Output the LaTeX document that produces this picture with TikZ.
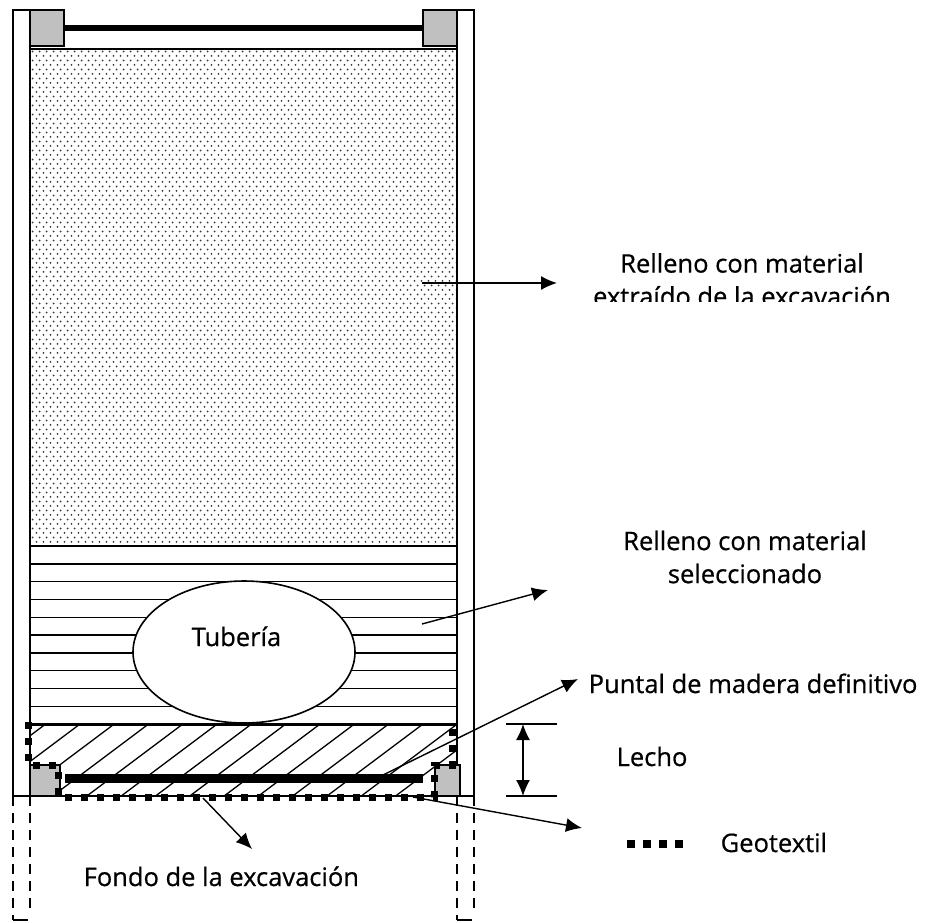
\documentclass[tikz,border=0pt]{standalone}
\usepackage{fontspec}
\setmainfont{Open Sans}
\newfontfamily\lblfam{Open Sans}[FakeBold=0.6]
\usepackage{tikz}
\usetikzlibrary{arrows.meta, patterns, shapes.geometric, positioning, calc}

\definecolor{blockgray}{RGB}{192,192,192}
\pgfdeclarepatternformonly{sanddots}{\pgfpointorigin}{\pgfqpoint{7pt}{8.8pt}}{\pgfqpoint{7pt}{8.8pt}}{%
  \pgfpathcircle{\pgfqpoint{1.75pt}{2.2pt}}{1.1pt}%
  \pgfpathcircle{\pgfqpoint{5.25pt}{6.6pt}}{1.1pt}%
  \pgfusepath{fill}}
\newcommand{\lblfont}{\lblfam\fontsize{25.5}{33}\selectfont}

\tikzset{
  block/.style={draw, fill=blockgray, line width=1.4pt},
  pile/.style={line width=1.4pt, dash pattern=on 10pt off 7pt},
  hatch/.style={line width=1.3pt},
  geotex/.style={line width=7pt, dash pattern=on 7pt off 9pt},
  geokey/.style={line width=8pt, dash pattern=on 8pt off 8pt},
  lbl/.style={font=\lblfont, inner sep=0pt},
  lbltwo/.style={font=\lblfont, inner sep=0pt, align=center, anchor=north},
}

\begin{document}
\begin{tikzpicture}[x=1pt,y=-1pt,line width=1.4pt,>={Latex[length=16pt,width=14pt]}]
\useasboundingbox (0,0) rectangle (930,922);
% fills of the trench
\draw[pattern=sanddots, pattern color=black!78] (30,49) rectangle (457,546);
\foreach \k in {1,...,9}
  \draw (30,546+17.8*\k) -- (457,546+17.8*\k);
\draw[line width=3pt] (30,724) -- (457,724);
\begin{scope}
  \clip (30,724) rectangle (457,796);
  \foreach \x in {11.4,45.7,...,560}
    \draw[hatch] (\x,724) -- ++(-96,72);
\end{scope}
\node[draw, fill=white, ellipse, line width=1.6pt, minimum width=222pt, minimum height=142pt, inner sep=0pt] (pipe) at (244,652) {};
\node[lbl, anchor=base west] (tuberia) at (191,646) {Tubería};
% walls and struts
\draw (13,796) -- (13,10) -- (30,10) -- (30,796);
\draw (457,796) -- (457,10) -- (474,10) -- (474,796);
\draw (13,796) -- (474,796);
\draw[pile] (13,796) -- (13,920);
\draw[pile] (30,796) -- (30,912);
\draw[pile] (457,796) -- (457,920);
\draw[pile] (474,796) -- (474,912);
\draw (13,920) -- (28,920);
\draw (457,920) -- (472,920);
\draw[block] (30,10) rectangle (64,46);
\draw[block] (423,10) rectangle (457,46);
\fill (64,25) rectangle (423,31);
\draw[block] (30,765) rectangle (60,796);
\draw[block] (435,765) rectangle (460,796);
\fill (65,774) rectangle (423,783);
% geotextil
\draw[geotex] (28,722) -- (28,765) -- (58,765) -- (58,797) -- (434,797) -- (434,765) -- (452,765) -- (452,722);
% labels
\begin{scope}
  \clip (560,230) rectangle (930,301);
  \node[lbltwo] (extraido) at (742,252.5) {Relleno con material\\extraído de la excavación};
\end{scope}
\node[lbltwo] (selec) at (745,530) {Relleno con material\\seleccionado};
\node[lbl, anchor=base west] (puntal) at (588,693) {Puntal de madera definitivo};
\node[lbl, anchor=base west] (lecho) at (616,766) {Lecho};
\node[lbl, anchor=base west] (geo) at (720,852) {Geotextil};
\node[lbl, anchor=base west] (fondo) at (83,886) {Fondo de la excavación};
% leaders
\coordinate (extA) at (422,283);
\coordinate (extB) at (557,283);
\coordinate (selA) at (422,624);
\coordinate (selB) at (548,590);
\coordinate (punA) at (383,775);
\coordinate (punB) at (578,679);
\coordinate (geoA) at (413,797);
\coordinate (geoB) at (582,828);
\coordinate (fonA) at (203,798);
\coordinate (fonB) at (252,849);
\draw[->] (extA) -- (extB);
\draw[->] (selA) -- (selB);
\draw[->] (punA) -- (punB);
\draw[->] (geoA) -- (geoB);
\draw[->] (fonA) -- (fonB);
% bed height
\coordinate (bedT) at (523,724);
\coordinate (bedB) at (523,796);
\draw (506,724) -- (557,724);
\draw (506,796) -- (557,796);
\draw[<->] (bedT) -- (bedB);
\draw[geokey] (627,844) -- (683,844);
\end{tikzpicture}
\end{document}
